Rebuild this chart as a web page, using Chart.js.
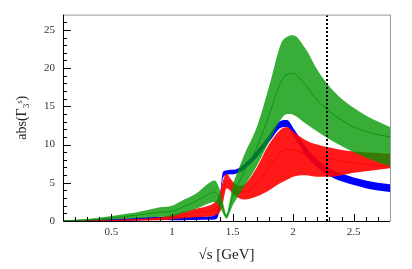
<!DOCTYPE html>
<html>
<head>
<meta charset="utf-8">
<script src="https://cdn.jsdelivr.net/npm/chart.js@4.4.0/dist/chart.umd.min.js"></script>
<style>
  html, body { margin: 0; padding: 0; background: #fff; }
  #wrap { width: 412px; height: 269px; }
</style>
</head>
<body>
<div id="wrap"><canvas id="chart" width="412" height="269"></canvas></div>
<script>
// sqrt(s) grid in GeV
const sqrtS = [0.1, 0.3, 0.5, 0.7, 0.9, 1.0, 1.1, 1.2, 1.3, 1.35, 1.38, 1.4, 1.42, 1.45, 1.48, 1.5, 1.55, 1.6, 1.7, 1.8, 1.9, 1.95, 2.0, 2.1, 2.2, 2.3, 2.4, 2.5, 2.6, 2.7, 2.8];

// blue band
const blueLow  = [0, 0, 0.02, 0.08, 0.15, 0.1, 0.1, 0.12, 0.15, 0.2, 0.6, 2.5, 5.6, 6.0, 6.1, 6.1, 6.3, 6.8, 8.3, 10.3, 12.2, 12.3, 11.2, 8.7, 7.0, 5.9, 5.2, 4.7, 4.3, 4.0, 3.8];
const blueHigh = [0.05, 0.12, 0.25, 0.4, 0.55, 0.5, 0.5, 0.55, 0.6, 0.75, 1.5, 3.8, 6.4, 6.6, 6.7, 6.7, 6.9, 7.5, 9.2, 11.2, 13.1, 13.2, 12.2, 9.8, 8.0, 6.9, 6.2, 5.7, 5.3, 5.0, 4.8];

// red band
const redLow  = [0, 0, 0.02, 0.05, 0.1, 0.2, 0.35, 0.5, 0.6, 0.7, 0.9, 1.3, 2.3, 4.3, 4.0, 3.6, 3.0, 2.8, 3.2, 4.0, 5.0, 5.4, 5.8, 6.0, 5.8, 5.8, 6.0, 6.3, 6.5, 6.7, 6.9];
const redMid  = [0.01, 0.03, 0.06, 0.15, 0.3, 0.5, 0.8, 1.1, 1.3, 1.5, 2.0, 2.6, 3.8, 5.3, 4.8, 4.3, 3.8, 3.8, 5.0, 7.0, 9.0, 9.4, 9.3, 8.8, 8.4, 8.1, 7.8, 7.6, 7.4, 7.2, 7.1];
const redHigh = [0.02, 0.06, 0.12, 0.25, 0.5, 0.8, 1.2, 1.6, 2.0, 2.4, 3.0, 4.0, 5.2, 6.2, 5.6, 5.2, 4.6, 4.8, 7.0, 10.0, 12.0, 12.3, 11.7, 10.6, 10.0, 9.6, 9.3, 9.1, 9.0, 8.9, 8.8];

// green band
const greenLow  = [0, 0.05, 0.2, 0.35, 0.55, 0.6, 1.1, 1.6, 2.3, 2.5, 2.2, 1.7, 1.0, 0.3, 1.2, 2.0, 3.3, 4.6, 7.2, 10.3, 13.3, 14.0, 13.9, 12.8, 11.7, 10.7, 9.8, 9.0, 8.3, 7.7, 7.2];
const greenMid  = [0.02, 0.15, 0.4, 0.75, 1.15, 1.3, 1.9, 2.6, 3.5, 3.8, 3.4, 2.7, 1.7, 0.5, 2.0, 3.2, 5.0, 6.6, 9.6, 13.8, 18.2, 19.2, 19.3, 17.8, 15.8, 14.3, 13.2, 12.3, 11.7, 11.3, 11.0];
const greenHigh = [0.05, 0.25, 0.65, 1.1, 1.8, 2.0, 2.8, 3.6, 4.9, 5.3, 4.7, 3.8, 2.5, 0.9, 2.9, 4.5, 6.8, 8.8, 12.3, 17.5, 23.2, 24.1, 24.3, 22.6, 19.8, 17.6, 16.0, 14.8, 13.8, 13.0, 12.3];

// dotted marker
const markerX = 2.28;

const xTicks = [0.5, 1, 1.5, 2, 2.5];
const yTicks = [0, 5, 10, 15, 20, 25];

const pts = ys => sqrtS.map((x, i) => ({ x: x, y: ys[i] }));

const serif = "'Liberation Serif', 'DejaVu Serif', serif";

function bandEdge(data, order) {
    return {
        data: pts(data),
        borderWidth: 0,
        borderColor: 'rgba(0,0,0,0)',
        pointRadius: 0,
        fill: false,
        cubicInterpolationMode: 'monotone',
        order: order
    };
}

function bandTop(data, color, order) {
    return {
        data: pts(data),
        borderWidth: 0,
        borderColor: 'rgba(0,0,0,0)',
        backgroundColor: color,
        pointRadius: 0,
        fill: '-1',
        cubicInterpolationMode: 'monotone',
        order: order
    };
}

function centreLine(data, color, order) {
    return {
        data: pts(data),
        borderWidth: 1,
        borderColor: color,
        pointRadius: 0,
        fill: false,
        cubicInterpolationMode: 'monotone',
        order: order
    };
}

// frame + inward ticks like the original plot
const frameTicks = {
    id: 'frameTicks',
    afterDraw(chart) {
        const { ctx, chartArea: a, scales: { x, y } } = chart;
        ctx.save();
        ctx.lineWidth = 1;
        ctx.strokeStyle = '#999';
        ctx.beginPath();
        ctx.moveTo(a.left, a.top + 0.5);
        ctx.lineTo(a.right + 0.5, a.top + 0.5);
        ctx.lineTo(a.right + 0.5, a.bottom);
        ctx.stroke();

        ctx.strokeStyle = '#000';
        ctx.beginPath();
        ctx.moveTo(a.left + 0.5, a.top);
        ctx.lineTo(a.left + 0.5, a.bottom + 0.5);
        ctx.lineTo(a.right, a.bottom + 0.5);
        for (let v = 1; v < 27; v++) {
            const py = Math.round(y.getPixelForValue(v)) + 0.5;
            const len = v % 5 === 0 ? 8 : 4;
            ctx.moveTo(a.left, py);
            ctx.lineTo(a.left + len, py);
        }
        for (let k = 2; k <= 27; k++) {
            const px = Math.round(x.getPixelForValue(k / 10)) + 0.5;
            const len = k % 5 === 0 ? 7 : 4;
            ctx.moveTo(px, a.bottom);
            ctx.lineTo(px, a.bottom - len);
        }
        ctx.stroke();
        ctx.restore();
    }
};

new Chart(document.getElementById('chart'), {
    type: 'line',
    data: {
        datasets: [
            bandEdge(blueLow, 3),
            bandTop(blueHigh, '#0000ff', 3),
            bandEdge(redLow, 2),
            bandTop(redHigh, 'rgba(255,0,0,0.9)', 2),
            centreLine(redMid, 'rgba(190,0,30,0.8)', 2),
            bandEdge(greenLow, 1),
            bandTop(greenHigh, 'rgba(0,150,0,0.78)', 1),
            centreLine(greenMid, 'rgba(20,150,20,0.9)', 1),
            {
                data: [{ x: markerX, y: 0 }, { x: markerX, y: 27 }],
                borderColor: '#000',
                borderWidth: 2,
                borderDash: [2, 2],
                pointRadius: 0,
                fill: false,
                order: 0
            }
        ]
    },
    options: {
        responsive: false,
        devicePixelRatio: 1,
        animation: false,
        layout: { padding: { left: 0, top: 13, right: 22, bottom: 0 } },
        plugins: {
            legend: { display: false },
            tooltip: { enabled: false }
        },
        scales: {
            x: {
                type: 'linear',
                min: 0.1,
                max: 2.8,
                afterBuildTicks: s => { s.ticks = xTicks.map(v => ({ value: v })); },
                afterFit: s => { s.height = 48; },
                grid: { display: false, drawTicks: false },
                border: { display: false },
                ticks: {
                    padding: 5,
                    color: '#333',
                    font: { family: serif, size: 11 },
                    callback: v => String(v)
                },
                title: {
                    display: true,
                    text: '√s [GeV]',
                    color: '#222',
                    font: { family: serif, size: 15 },
                    padding: { top: 0, bottom: 5 }
                }
            },
            y: {
                type: 'linear',
                min: 0,
                max: 27,
                afterBuildTicks: s => { s.ticks = yTicks.map(v => ({ value: v })); },
                afterFit: s => { s.width = 63; },
                grid: { display: false, drawTicks: false },
                border: { display: false },
                ticks: {
                    padding: 8,
                    color: '#333',
                    font: { family: serif, size: 11 }
                },
                title: {
                    display: true,
                    text: 'abs(Γ₃ˢ)',
                    color: '#222',
                    font: { family: serif, size: 14 },
                    padding: { top: 14, bottom: 0 }
                }
            }
        }
    },
    plugins: [frameTicks]
});
</script>
</body>
</html>
